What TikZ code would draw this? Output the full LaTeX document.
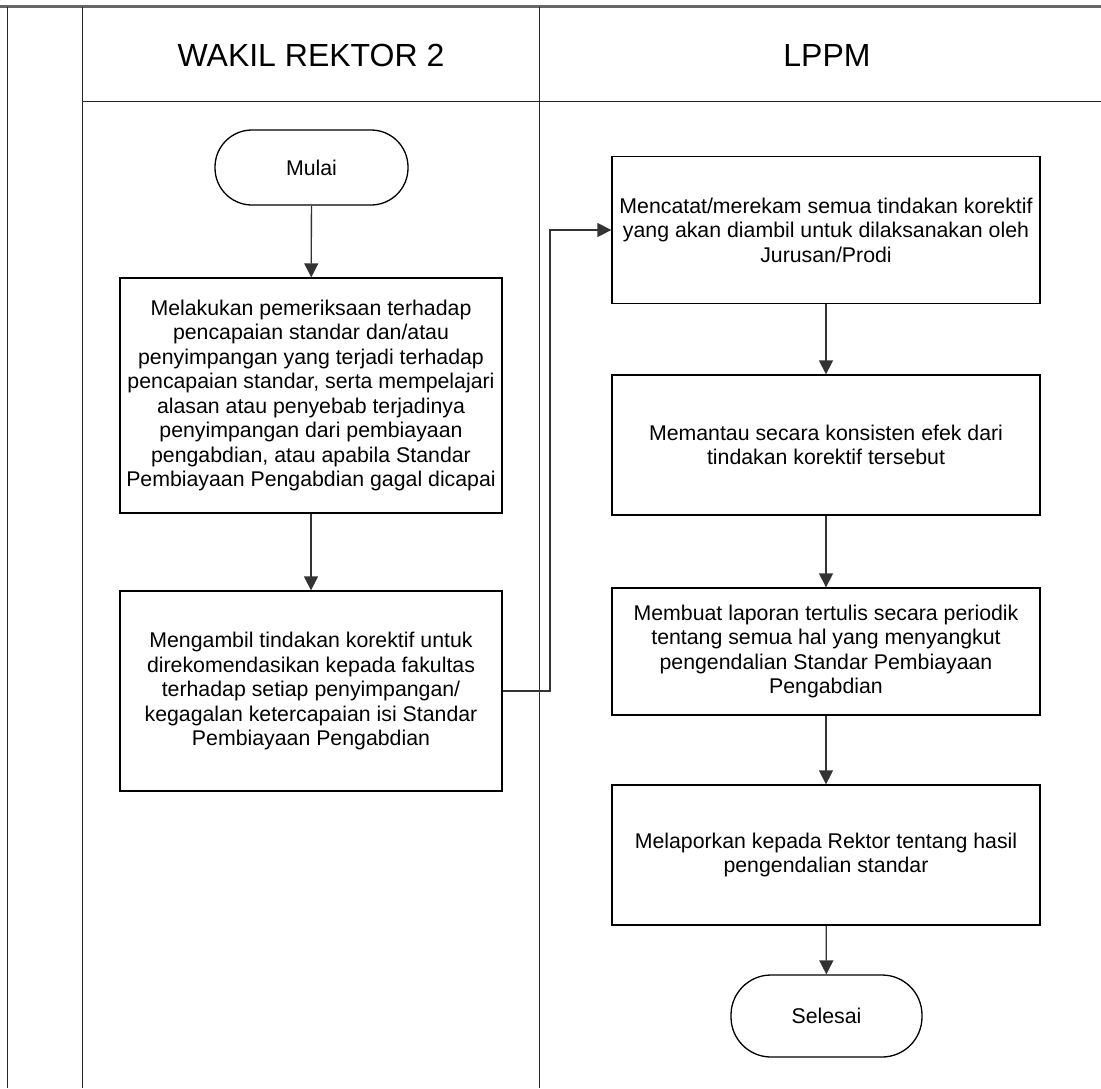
\documentclass[tikz,border=0pt]{standalone}
\usepackage{fontspec}
\setmainfont{Liberation Sans}
\usetikzlibrary{arrows.meta}
\begin{document}
\begin{tikzpicture}[x=1pt,y=-1pt,
  lane/.style={draw=black!85, line width=1.8pt},
  topline/.style={draw=black!60, line width=3pt},
  box/.style={draw, line width=1.3pt, align=center, inner sep=0pt,
    font=\fontsize{21.3}{24.5}\selectfont},
  term/.style={draw, line width=1.3pt, align=center, inner sep=0pt,
    rounded corners=37pt, font=\fontsize{21.3}{24.5}\selectfont},
  head/.style={font=\fontsize{32}{36}\selectfont},
  arr/.style={draw=black!80, line width=1.3pt, -{Triangle[width=14pt,length=14pt]}},
  conn/.style={draw=black!80, line width=1.3pt, -{Triangle[width=14pt,length=14pt]}}
]
\useasboundingbox (0,0) rectangle (1101,1088);
% lanes
\draw[topline] (0,6.5) -- (1101,6.5);
\draw[lane] (7.5,6.5) -- (7.5,1088);
\draw[lane] (82.5,6.5) -- (82.5,1088);
\draw[lane] (539.5,6.5) -- (539.5,1088);
\draw[lane] (82.5,101.5) -- (1101,101.5);
\node[head] (h1) at (311,55) {WAKIL REKTOR 2};
\node[head] (h2) at (827,55) {LPPM};
% left lane
\node[term, minimum width=193pt, minimum height=75pt] (mulai) at (311.5,167.5) {Mulai};
\node[box, minimum width=382pt, minimum height=235pt] (b1) at (311,395.5) {Melakukan pemeriksaan terhadap\\pencapaian standar dan/atau\\penyimpangan yang terjadi terhadap\\pencapaian standar, serta mempelajari\\alasan atau penyebab terjadinya\\penyimpangan dari pembiayaan\\pengabdian, atau apabila Standar\\Pembiayaan Pengabdian gagal dicapai};
\node[box, minimum width=382pt, minimum height=200pt] (b2) at (311,691) {Mengambil tindakan korektif untuk\\direkomendasikan kepada fakultas\\terhadap setiap penyimpangan/\\kegagalan ketercapaian isi Standar\\Pembiayaan Pengabdian};
% right lane
\node[box, minimum width=428pt, minimum height=147pt] (b3) at (826,230) {Mencatat/merekam semua tindakan korektif\\yang akan diambil untuk dilaksanakan oleh\\Jurusan/Prodi};
\node[box, minimum width=428pt, minimum height=140pt] (b4) at (826,445) {Memantau secara konsisten efek dari\\tindakan korektif tersebut};
\node[box, minimum width=428pt, minimum height=127pt] (b5) at (826,651.5) {Membuat laporan tertulis secara periodik\\tentang semua hal yang menyangkut\\pengendalian Standar Pembiayaan\\Pengabdian};
\node[box, minimum width=428pt, minimum height=140pt] (b6) at (826,855) {Melaporkan kepada Rektor tentang hasil\\pengendalian standar};
\node[term, minimum width=191pt, minimum height=82pt, rounded corners=40pt] (selesai) at (826.5,1016) {Selesai};
% arrows
\draw[arr] (mulai) -- (b1);
\draw[arr] (b1) -- (b2);
\draw[conn] (b2.east) -- (550,691) |- (b3.west);
\draw[arr] (b3) -- (b4);
\draw[arr] (b4) -- (b5);
\draw[arr] (b5) -- (b6);
\draw[arr] (b6) -- (selesai);
\end{tikzpicture}
\end{document}
